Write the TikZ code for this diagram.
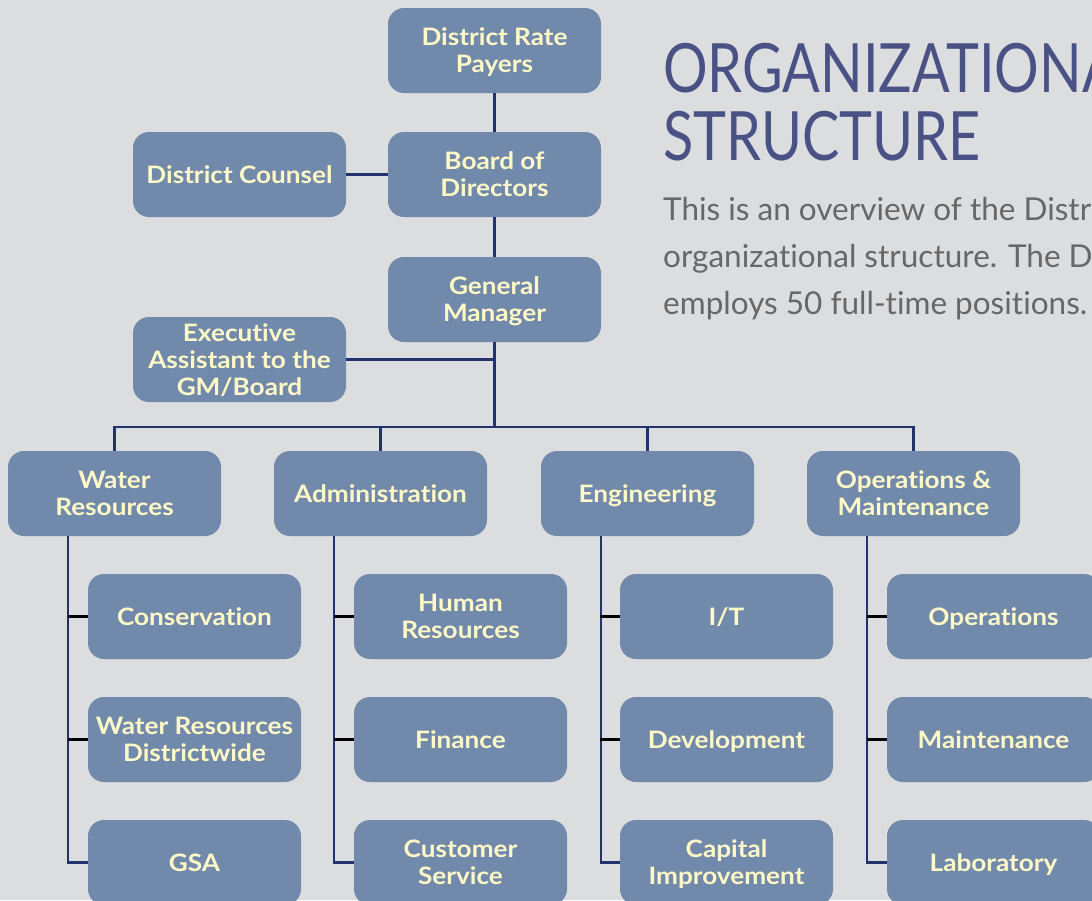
\documentclass[tikz,border=0pt]{standalone}
\usepackage{fontspec}
\setmainfont{Lato}[Ligatures={NoCommon}]
\newfontfamily\boxfont{Lato}[FontFace={b}{n}{Lato Bold}, FakeStretch=1.09, Ligatures={NoCommon}]
\newfontfamily\titlefont{Lato}[FakeStretch=0.82]
\usetikzlibrary{calc}
\definecolor{pagebg}{HTML}{DCDDDF}
\definecolor{boxfill}{HTML}{7189AA}
\definecolor{boxtext}{HTML}{FFF9C8}
\definecolor{linknavy}{HTML}{22326C}
\definecolor{titleblue}{HTML}{4A5185}
\definecolor{bodygray}{HTML}{676767}
\tikzset{
  unit/.style={draw=none, fill=boxfill, rounded corners=16pt, minimum width=213pt,
    minimum height=85pt, inner sep=0pt, align=center, text=boxtext, text depth=-3pt,
    font=\boxfont\bfseries\fontsize{24}{27}\selectfont},
  link/.style={draw=linknavy, line width=2.6pt},
  tick/.style={draw=black, line width=2.6pt},
  heading/.style={anchor=base west, inner sep=0pt, text=titleblue,
    font=\titlefont\fontsize{68}{68}\selectfont},
  intro/.style={anchor=base west, inner sep=0pt, text=bodygray,
    font=\fontsize{31.5}{47}\selectfont}
}
\begin{document}
\begin{tikzpicture}[x=1pt,y=-1pt]
\fill[pagebg] (0,0) rectangle (1092,900);
\useasboundingbox (0,0) rectangle (1092,900);
\clip (0,0) rectangle (1092,900);

% top chain
\node[unit] (payers) at (494.5,50.5) {District Rate\\Payers};
\node[unit] (board) at (494.5,174.5) {Board of\\Directors};
\node[unit] (counsel) at (239.5,174.5) {District Counsel};
\node[unit] (gm) at (494.5,299.5) {General\\Manager};
\node[unit] (exec) at (239.5,359.5) {Executive\\Assistant to the\\GM/Board};

% departments
\node[unit] (wr) at (114.5,493.5) {Water\\Resources};
\node[unit] (adm) at (380.5,493.5) {Administration};
\node[unit] (eng) at (647.5,493.5) {Engineering};
\node[unit] (om) at (913.5,493.5) {Operations \&\\Maintenance};

% sections
\node[unit] (cons) at (194.5,616.5) {Conservation};
\node[unit] (wrdw) at (194.5,739.5) {Water Resources\\Districtwide};
\node[unit] (gsa) at (194.5,862.5) {GSA};
\node[unit] (hr) at (460.5,616.5) {Human\\Resources};
\node[unit] (fin) at (460.5,739.5) {Finance};
\node[unit] (cs) at (460.5,862.5) {Customer\\Service};
\node[unit] (it) at (726.5,616.5) {I/T};
\node[unit] (dev) at (726.5,739.5) {Development};
\node[unit] (cap) at (726.5,862.5) {Capital\\Improvement};
\node[unit] (ops) at (993.5,616.5) {Operations};
\node[unit] (mnt) at (993.5,739.5) {Maintenance};
\node[unit] (lab) at (993.5,862.5) {Laboratory};

% heading and intro
\node[heading] (title1) at (663,92) {ORGANIZATIONAL};
\node[heading] (title2) at (663,160) {STRUCTURE};
\node[intro] (intro1) at (663,220) {This is an overview of the District's};
\node[intro] (intro2) at (663,267) {organizational structure. The District};
\node[intro] (intro3) at (663,314) {employs 50 full-time positions.};

% reporting lines
\coordinate (bus) at (494.5,427);
\draw[link] (payers) -- (board);
\draw[link] (board) -- (gm);
\draw[link] (board.west) -- (counsel.east);
\draw[link] (gm.south) -- (bus);
\draw[link] (exec.east) -- (exec.east -| gm.south);
\draw[link] (wr.north) |- (bus) -| (om.north);
\draw[link] (adm.north) -- (adm.north |- bus);
\draw[link] (eng.north) -- (eng.north |- bus);

% section spines
\foreach \d/\a/\b/\c in {wr/cons/wrdw/gsa, adm/hr/fin/cs, eng/it/dev/cap, om/ops/mnt/lab}{
  \draw[link] ($(\d.south west)+(60,0)$) |- (\c.west);
  \draw[tick] (\a.west) -- ++(-20,0);
  \draw[tick] (\b.west) -- ++(-20,0);
}
\end{tikzpicture}
\end{document}
